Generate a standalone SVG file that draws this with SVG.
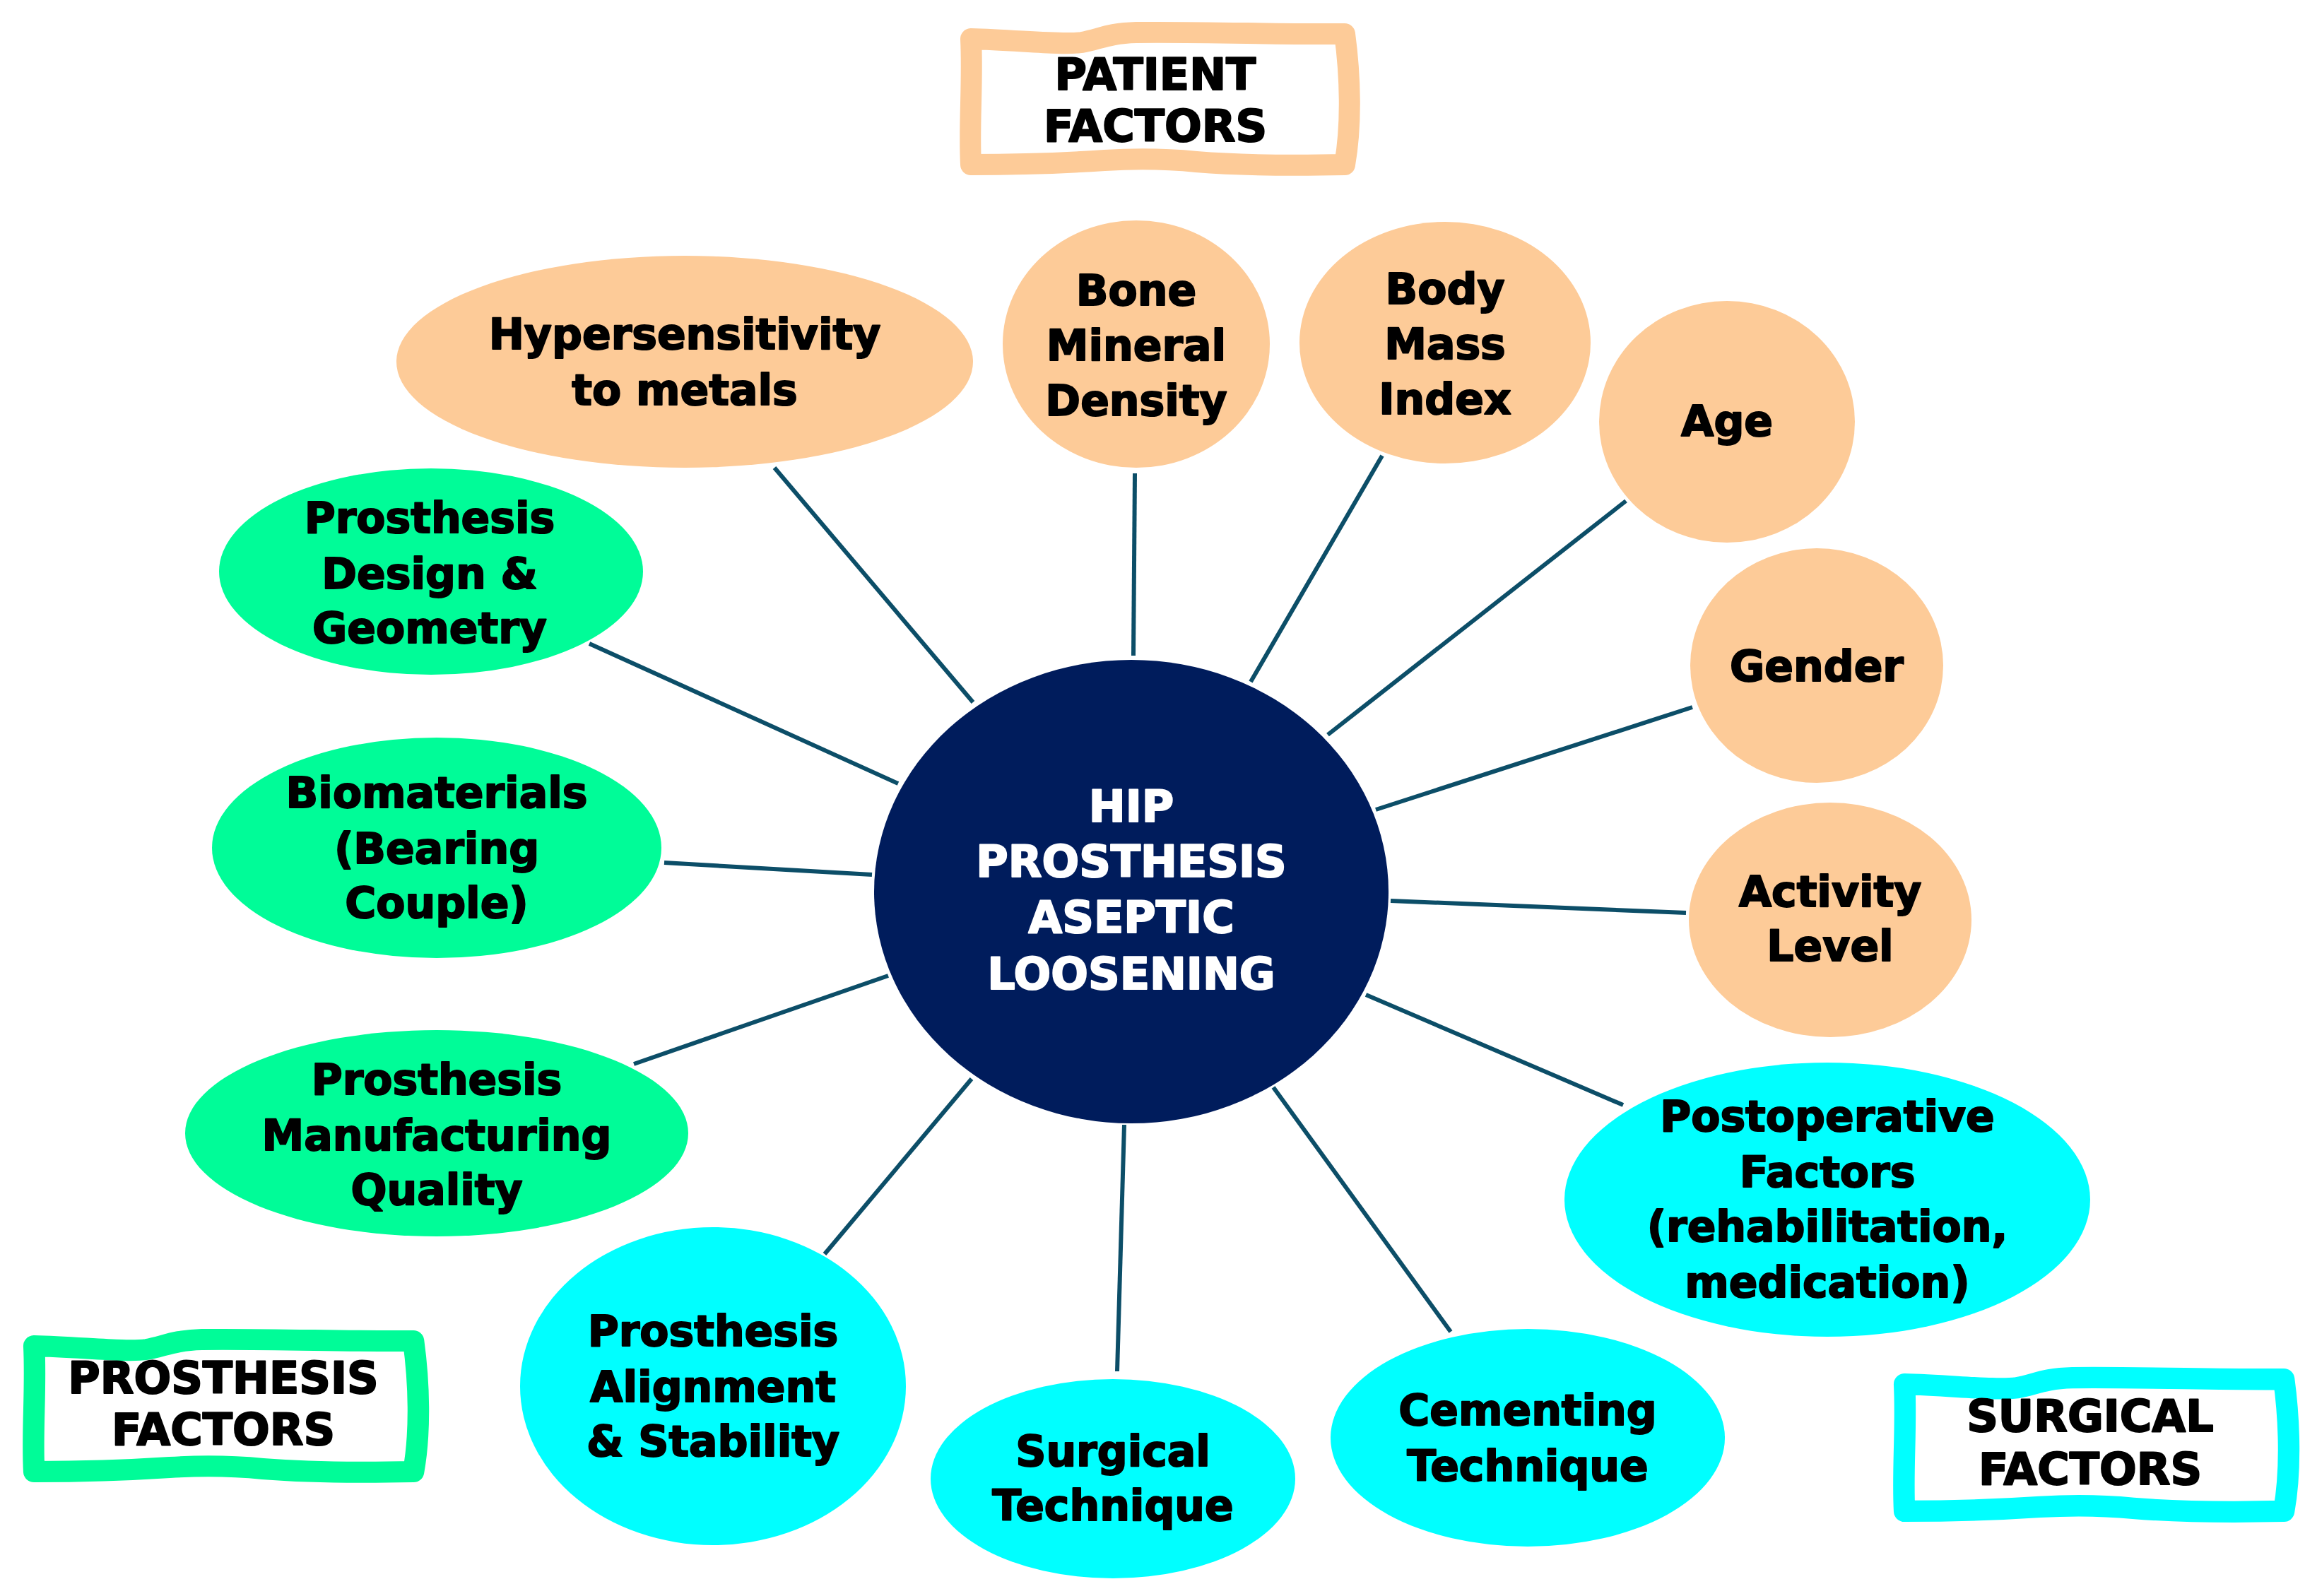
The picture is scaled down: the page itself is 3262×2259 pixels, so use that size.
<svg xmlns="http://www.w3.org/2000/svg" xmlns:xlink="http://www.w3.org/1999/xlink" width="3262" height="2259" viewBox="0 0 3262 2259">
<style>
.t{font-family:"DejaVu Sans","Liberation Sans",sans-serif;font-weight:bold;font-size:60px;fill:#000;stroke:#000;stroke-width:2;stroke-linejoin:round;text-anchor:middle}
.c{fill:#fff;stroke:#fff;font-size:62px}
.h{font-size:62px}
.pat{fill:#FDCB98}
.pro{fill:#00FC98}
.sur{fill:#00FFFF}
.con line{stroke:#0C4E68;stroke-width:6;stroke-linecap:butt}
</style>
<defs>
<path id="box" d="M11,18 C80,20 140,27 168,23 C192,19 205,10 245,9 C350,8 450,12 540,11 C548,70 550,140 540,196 C450,198 380,196 330,192 C290,188 250,187 200,190 C140,194 60,196 11,196 C8,140 14,80 11,18 Z" fill="#fff" stroke-width="30" stroke-linejoin="round"/>
</defs>
<rect width="3262" height="2259" fill="#fff"/>
<g id="connectors" class="con">
<line x1="1096" y1="662" x2="1377" y2="994"/>
<line x1="1606" y1="670" x2="1604" y2="928"/>
<line x1="1956" y1="645" x2="1770" y2="965"/>
<line x1="2301" y1="709" x2="1879" y2="1040"/>
<line x1="2395" y1="1001" x2="1947" y2="1146"/>
<line x1="2386" y1="1292" x2="1968" y2="1275"/>
<line x1="2297" y1="1564" x2="1933" y2="1408"/>
<line x1="2053" y1="1885" x2="1802" y2="1539"/>
<line x1="1591" y1="1592" x2="1581" y2="1941"/>
<line x1="1375" y1="1527" x2="1167" y2="1775"/>
<line x1="1257" y1="1381" x2="897" y2="1506"/>
<line x1="1234" y1="1238" x2="940" y2="1221"/>
<line x1="1271" y1="1109" x2="834" y2="911"/>
</g>
<g id="center">
<ellipse cx="1601" cy="1262" rx="364" ry="328" fill="#001C5C"/>
<text class="t c" x="1601"><tspan x="1601" y="1163">HIP</tspan><tspan x="1601" y="1241">PROSTHESIS</tspan><tspan x="1601" y="1320">ASEPTIC</tspan><tspan x="1601" y="1400">LOOSENING</tspan></text>
</g>
<g id="n-hyper"><ellipse class="pat" cx="969" cy="512" rx="408" ry="150"/><text class="t"><tspan x="969" y="494">Hypersensitivity</tspan><tspan x="969" y="573">to metals</tspan></text></g>
<g id="n-bone"><ellipse class="pat" cx="1608" cy="487" rx="189" ry="175"/><text class="t"><tspan x="1608" y="432">Bone</tspan><tspan x="1608" y="510">Mineral</tspan><tspan x="1608" y="588">Density</tspan></text></g>
<g id="n-bmi"><ellipse class="pat" cx="2045" cy="485" rx="206" ry="171"/><text class="t"><tspan x="2045" y="430">Body</tspan><tspan x="2045" y="508">Mass</tspan><tspan x="2045" y="586">Index</tspan></text></g>
<g id="n-age"><ellipse class="pat" cx="2444" cy="597" rx="181" ry="171"/><text class="t"><tspan x="2444" y="617">Age</tspan></text></g>
<g id="n-gender"><ellipse class="pat" cx="2571" cy="942" rx="179" ry="166"/><text class="t"><tspan x="2571" y="964">Gender</tspan></text></g>
<g id="n-activity"><ellipse class="pat" cx="2590" cy="1302" rx="200" ry="166"/><text class="t"><tspan x="2590" y="1283">Activity</tspan><tspan x="2590" y="1360">Level</tspan></text></g>
<g id="n-postop"><ellipse class="sur" cx="2586" cy="1698" rx="372" ry="194"/><text class="t"><tspan x="2586" y="1601">Postoperative</tspan><tspan x="2586" y="1680">Factors</tspan><tspan x="2586" y="1757">(rehabilitation,</tspan><tspan x="2586" y="1836">medication)</tspan></text></g>
<g id="n-cement"><ellipse class="sur" cx="2162" cy="2035" rx="279" ry="154"/><text class="t"><tspan x="2162" y="2017">Cementing</tspan><tspan x="2162" y="2096">Technique</tspan></text></g>
<g id="n-surgical"><ellipse class="sur" cx="1575" cy="2093" rx="258" ry="141"/><text class="t"><tspan x="1575" y="2075">Surgical</tspan><tspan x="1575" y="2152">Technique</tspan></text></g>
<g id="n-align"><ellipse class="sur" cx="1009" cy="1962" rx="273" ry="225"/><text class="t"><tspan x="1009" y="1905">Prosthesis</tspan><tspan x="1009" y="1984">Alignment</tspan><tspan x="1009" y="2061">&amp; Stability</tspan></text></g>
<g id="n-manuf"><ellipse class="pro" cx="618" cy="1604" rx="356" ry="146"/><text class="t"><tspan x="618" y="1549">Prosthesis</tspan><tspan x="618" y="1628">Manufacturing</tspan><tspan x="618" y="1705">Quality</tspan></text></g>
<g id="n-bio"><ellipse class="pro" cx="618" cy="1200" rx="318" ry="156"/><text class="t"><tspan x="618" y="1143">Biomaterials</tspan><tspan x="618" y="1222">(Bearing</tspan><tspan x="618" y="1299">Couple)</tspan></text></g>
<g id="n-design"><ellipse class="pro" cx="610" cy="809" rx="300" ry="146"/><text class="t"><tspan x="608" y="754">Prosthesis</tspan><tspan x="608" y="833">Design &amp;</tspan><tspan x="608" y="910">Geometry</tspan></text></g>
<g id="lbl-patient"><use xlink:href="#box" href="#box" transform="translate(1363,37)" stroke="#FDCB98"/><text class="t h"><tspan x="1635" y="127">PATIENT</tspan><tspan x="1635" y="200">FACTORS</tspan></text></g>
<g id="lbl-prosthesis"><use xlink:href="#box" href="#box" transform="translate(37,1887) scale(1.015,1)" stroke="#00FC98"/><text class="t h"><tspan x="316" y="1972">PROSTHESIS</tspan><tspan x="316" y="2045">FACTORS</tspan></text></g>
<g id="lbl-surgical"><use xlink:href="#box" href="#box" transform="translate(2684,1941) scale(1.015,1.01)" stroke="#00FFFF"/><text class="t h"><tspan x="2958" y="2026">SURGICAL</tspan><tspan x="2958" y="2101">FACTORS</tspan></text></g>
</svg>
